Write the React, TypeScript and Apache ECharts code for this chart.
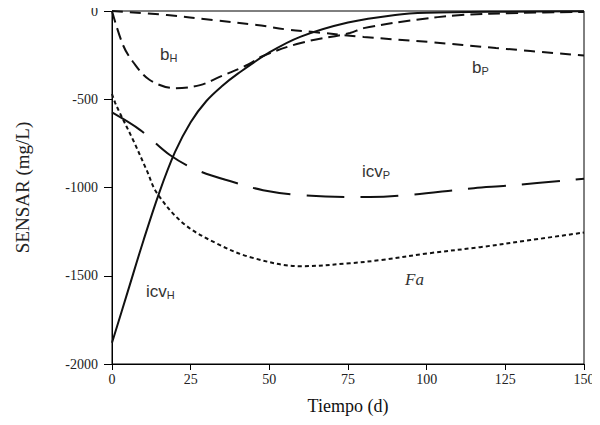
import React, { useEffect, useRef } from "react";
import * as echarts from "echarts";

const xTicks = [0, 25, 50, 75, 100, 125, 150];
const yTicks = [0, -500, -1000, -1500, -2000];

const icvH: [number, number][] = [
  [0, -1880], [5, -1590], [10, -1300], [15, -1030], [20, -800], [25, -630],
  [30, -510], [35, -425], [40, -355], [50, -235], [60, -145], [75, -65], [90, -22],
  [100, -10], [125, -4], [150, -2],
];
const bH: [number, number][] = [
  [0, 0], [3.5, -193], [6.7, -289], [12, -391], [20, -437], [28, -420], [34, -375],
  [43, -306], [48, -255], [60, -181], [75.6, -125], [80, -97], [96, -51], [111, -23],
  [129, -11], [150, -5],
];
const bP: [number, number][] = [
  [0, 0], [17.5, -23], [32, -51], [46, -79], [55.6, -105], [64, -119], [80, -147],
  [101, -176], [122, -210], [150, -252],
];
const icvP: [number, number][] = [
  [0, -575], [9, -675], [18.4, -816], [27, -901], [38.5, -969], [48, -1015], [60, -1043],
  [75.6, -1054], [82, -1054], [92.5, -1045], [115, -1004], [125.5, -990], [150, -950],
];
const Fa: [number, number][] = [
  [0, -470], [1, -520], [2.5, -578], [6.7, -731], [11, -901], [14.3, -1032], [22.6, -1202],
  [33, -1315], [44, -1395], [60, -1446], [75.6, -1429], [85, -1412], [101, -1372],
  [117, -1338], [133, -1298], [150, -1255],
];

export default function App() {
  const ref = useRef<HTMLDivElement>(null);
  useEffect(() => {
    if (!ref.current) return;
    const chart = echarts.init(ref.current, null, { renderer: "svg" });
    const serif = "Liberation Serif";
    const sans = "Liberation Sans";
    const mk = (name: string, data: [number, number][], type: any) => ({
      name,
      type: "line",
      data,
      smooth: 0.35,
      showSymbol: false,
      symbol: "none",
      lineStyle: { color: "#111", width: 2, type },
      z: 3,
    });
    const richLabel = (main: string, sub: string, x: number, y: number) => ({
      type: "text",
      x,
      y,
      style: {
        text: `{m|${main}}{s|${sub}}`,
        rich: {
          m: { fontFamily: sans, fontSize: 17, fill: "#333" },
          s: { fontFamily: sans, fontSize: 11, fill: "#333", padding: [6, 0, 0, 0] },
        },
        fill: "#333",
      },
    });
    chart.setOption({
      animation: false,
      backgroundColor: "#fff",
      grid: {
        left: 112,
        right: 16,
        top: 11,
        bottom: 61,
        show: true,
        borderColor: "#000",
        borderWidth: 1,
        backgroundColor: "transparent",
      },
      xAxis: {
        type: "value",
        min: 0,
        max: 150,
        interval: 25,
        name: "Tiempo (d)",
        nameLocation: "middle",
        nameGap: 33,
        nameTextStyle: { fontFamily: serif, fontSize: 18, color: "#111" },
        axisLine: { show: true, onZero: false, lineStyle: { color: "#000", width: 1 } },
        axisTick: { show: true, length: 6, lineStyle: { color: "#000" } },
        axisLabel: {
          fontFamily: serif,
          fontSize: 14,
          color: "#222",
          margin: 8,
          formatter: (v: number) => (xTicks.includes(v) ? String(v) : ""),
        },
        splitLine: { show: false },
      },
      yAxis: {
        type: "value",
        min: -2000,
        max: 0,
        interval: 500,
        name: "SENSAR (mg/L)",
        nameLocation: "middle",
        nameGap: 80,
        nameTextStyle: { fontFamily: serif, fontSize: 19, color: "#222" },
        axisLine: { show: true, onZero: false, lineStyle: { color: "#000", width: 1 } },
        axisTick: { show: true, length: 8, lineStyle: { color: "#000" } },
        axisLabel: {
          fontFamily: serif,
          fontSize: 14,
          color: "#222",
          margin: 14,
          formatter: (v: number) => (yTicks.includes(v) ? String(v) : ""),
        },
        splitLine: { show: false },
      },
      series: [
        mk("icvH", icvH, "solid"),
        mk("bH", bH, [12, 6]),
        mk("bP", bP, [11, 7]),
        mk("icvP", icvP, [38, 16]),
        mk("Fa", Fa, [4, 3]),
      ],
      graphic: [
        richLabel("b", "H", 160, 46),
        richLabel("b", "P", 472, 59),
        richLabel("icv", "P", 362, 163),
        richLabel("icv", "H", 146, 283),
        {
          type: "text",
          x: 405,
          y: 271,
          style: {
            text: "Fa",
            fontFamily: serif,
            fontStyle: "italic",
            fontSize: 17,
            fill: "#333",
          },
        },
      ],
    });
    return () => chart.dispose();
  }, []);
  return <div ref={ref} style={{ width: 600, height: 425, margin: -8 }} />;
}
